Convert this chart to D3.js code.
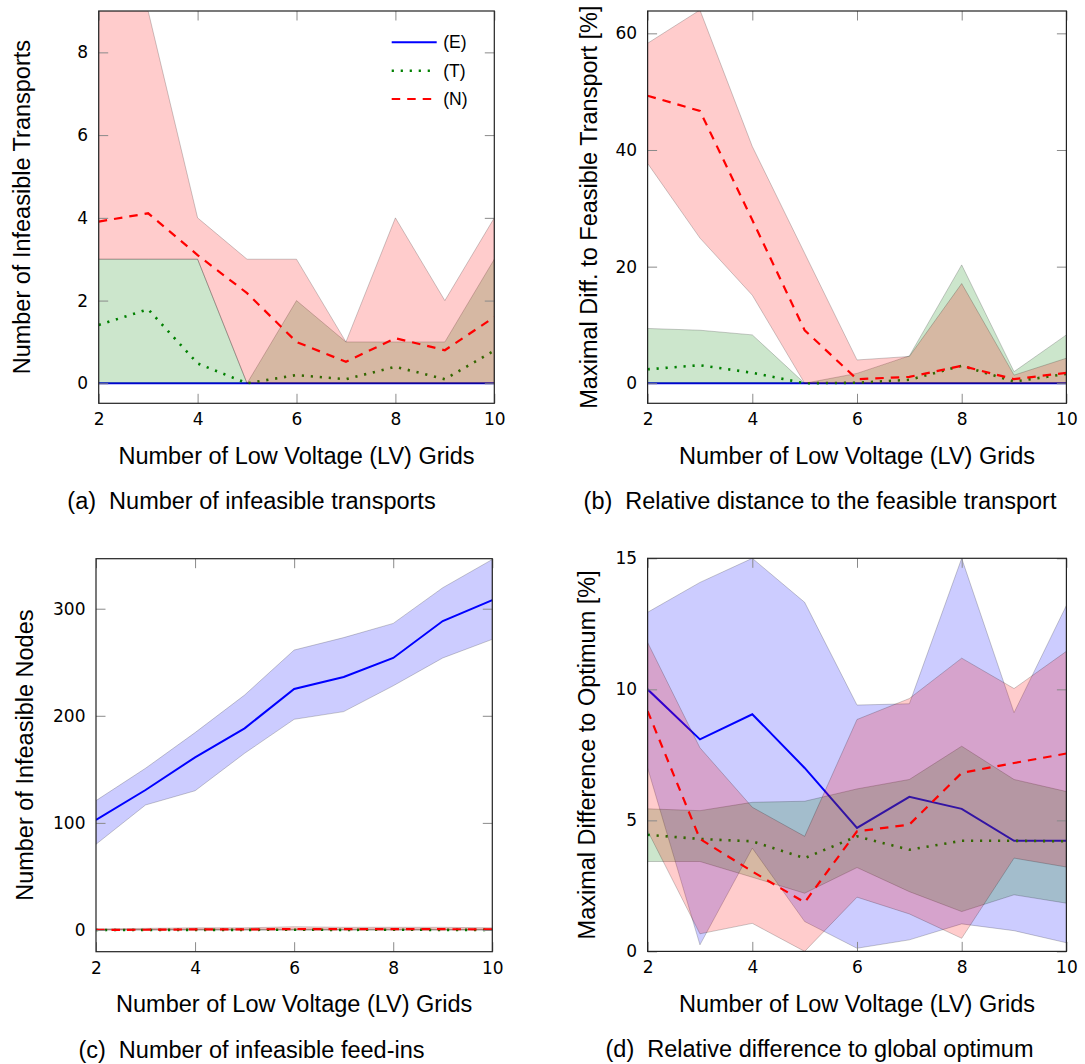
<!DOCTYPE html>
<html>
<head>
<meta charset="utf-8">
<script src="https://cdn.jsdelivr.net/npm/d3@7"></script>
<style>
  html, body { margin: 0; padding: 0; background: #fff; }
</style>
</head>
<body>
<div id="chart"></div>
<script>
// x: number of LV grids
const grids = [2, 3, 4, 5, 6, 7, 8, 9, 10];
const xTickValues = [2, 4, 6, 8, 10];
const seriesNames = ["(E)", "(T)", "(N)"];

// (a) number of infeasible transports
const aYTicks = [0, 2, 4, 6, 8];
const aE = [0, 0, 0, 0, 0, 0, 0, 0, 0];
const aELow = [0, 0, 0, 0, 0, 0, 0, 0, 0];
const aEHigh = [0, 0, 0, 0, 0, 0, 0, 0, 0];
const aT = [1.41, 1.79, 0.48, 0, 0.2, 0.1, 0.4, 0.1, 0.79];
const aTLow = [0, 0, 0, 0, 0, 0, 0, 0, 0];
const aTHigh = [3, 3, 3, 0, 2, 1, 1, 1, 3];
const aN = [3.91, 4.11, 3.1, 2.18, 1.0, 0.52, 1.09, 0.8, 1.6];
const aNLow = [3, 3, 3, 0, 0, 0, 0, 0, 0];
const aNHigh = [9, 9, 4, 3, 3, 1, 4, 2, 4];

// (b) relative distance to feasible transport [%]
const bYTicks = [0, 20, 40, 60];
const bE = [0, 0, 0, 0, 0, 0, 0, 0, 0];
const bELow = [0, 0, 0, 0, 0, 0, 0, 0, 0];
const bEHigh = [0, 0, 0, 0, 0, 0, 0, 0, 0];
const bT = [2.4, 3.1, 1.8, 0, 0.1, 0.6, 3.0, 0.3, 1.6];
const bTLow = [0, 0, 0, 0, 0, 0, 0, 0, 0];
const bTHigh = [9.4, 9.1, 8.3, 0, 1.7, 4.7, 20.3, 2.0, 8.3];
const bN = [49.3, 46.7, 28, 9.1, 0.7, 1.1, 3.0, 0.7, 1.8];
const bNLow = [37.7, 24.9, 15.1, 0, 0, 0, 0, 0, 0];
const bNHigh = [58.3, 64, 40.6, 22.3, 4.0, 4.6, 17.1, 1.4, 4.3];

// (c) number of infeasible nodes
const cYTicks = [0, 100, 200, 300];
const cE = [102.7, 130.7, 161.2, 188.3, 225, 236.2, 254, 288.5, 308];
const cELow = [80, 116.7, 130, 165, 196.7, 203.9, 228, 254, 271.4];
const cEHigh = [120.8, 151, 184.3, 219.4, 261.4, 273, 286.3, 319.6, 346];
const cT = [0, 0, 0.1, 0.1, 0.2, 0.1, 0.2, 0.1, 0.1];
const cTLow = [0, 0, 0, 0, 0, 0, 0, 0, 0];
const cTHigh = [0.5, 0.5, 0.8, 0.8, 1, 0.8, 1, 0.8, 0.8];
const cN = [0.1, 0.2, 0.5, 0.5, 0.9, 0.7, 0.8, 0.7, 0.6];
const cNLow = [0, 0, 0, 0, 0, 0, 0, 0, 0];
const cNHigh = [1, 1.5, 2, 2, 3, 2.5, 2.5, 2.5, 2];

// (d) relative difference to global optimum [%]
const dYTicks = [0, 5, 10, 15];
const dE = [10.0, 8.09, 9.05, 7.0, 4.71, 5.9, 5.44, 4.22, 4.22];
const dELow = [7.0, 0.25, 3.94, 1.14, 0.12, 0.44, 1.05, 0.79, 0.33];
const dEHigh = [12.94, 14.08, 15.0, 13.32, 9.40, 9.45, 15.0, 9.11, 13.2];
const dT = [4.45, 4.29, 4.2, 3.56, 4.39, 3.88, 4.22, 4.22, 4.2];
const dTLow = [3.43, 3.43, 2.83, 2.22, 3.2, 2.28, 1.52, 2.16, 1.84];
const dTHigh = [5.44, 5.37, 5.69, 5.73, 6.2, 6.56, 7.83, 6.56, 6.1];
const dN = [9.17, 4.29, 3.05, 1.87, 4.58, 4.84, 6.81, 7.19, 7.55];
const dNLow = [4.6, 0.67, 1.07, 0, 2.07, 1.43, 0.5, 3.56, 3.22];
const dNHigh = [11.79, 7.77, 5.5, 4.39, 8.85, 9.65, 11.19, 10.03, 11.45];

// --- styles ---
const colors = ["#0000ff", "#008000", "#ff0000"];
const dashes = [null, "2.2,6.8", "8.5,7"];
const widths = [2, 2.6, 2.2];
const tickFont = "'DejaVu Sans', sans-serif";
const labelFont = "'Liberation Sans', Arial, sans-serif";

const svg = d3.select("#chart").append("svg")
  .attr("width", 1085)
  .attr("height", 1064)
  .style("display", "block")
  .style("background", "#fff");

const panels = [
  { id: "a", left: 98.7, right: 494.3, top: 11, bottom: 403.3, yDomain: [-0.483, 9.0], yTicks: aYTicks,
    ylabel: "Number of Infeasible Transports", ylabelX: 29.5,
    capTag: "(a)", capText: "Number of infeasible transports", capX: 251.5, legend: true,
    series: [[aE, aELow, aEHigh], [aT, aTLow, aTHigh], [aN, aNLow, aNHigh]] },
  { id: "b", left: 647.6, right: 1066.4, top: 11, bottom: 403.3, yDomain: [-3.43, 63.83], yTicks: bYTicks,
    ylabel: "Maximal Diff. to Feasible Transport [%]", ylabelX: 596.5,
    capTag: "(b)", capText: "Relative distance to the feasible transport", capX: 820,
    series: [[bE, bELow, bEHigh], [bT, bTLow, bTHigh], [bN, bNLow, bNHigh]] },
  { id: "c", left: 96, right: 492.3, top: 558.7, bottom: 951.7, yDomain: [-20.3, 346.7], yTicks: cYTicks,
    ylabel: "Number of Infeasible Nodes", ylabelX: 32.5,
    capTag: "(c)", capText: "Number of infeasible feed-ins", capX: 251.5,
    series: [[cE, cELow, cEHigh], [cT, cTLow, cTHigh], [cN, cNLow, cNHigh]] },
  { id: "d", left: 647.6, right: 1066.4, top: 558.3, bottom: 951.4, yDomain: [0, 15], yTicks: dYTicks,
    ylabel: "Maximal Difference to Optimum [%]", ylabelX: 594.5,
    capTag: "(d)", capText: "Relative difference to global optimum", capX: 819.5,
    series: [[dE, dELow, dEHigh], [dT, dTLow, dTHigh], [dN, dNLow, dNHigh]] }
];

function drawPanel(p) {
  const x = d3.scaleLinear().domain([2, 10]).range([p.left, p.right]);
  const y = d3.scaleLinear().domain(p.yDomain).range([p.bottom, p.top]);
  const g = svg.append("g").attr("class", "panel-" + p.id);

  g.append("clipPath").attr("id", "clip-" + p.id)
    .append("rect")
    .attr("x", p.left).attr("y", p.top)
    .attr("width", p.right - p.left).attr("height", p.bottom - p.top);

  const plot = g.append("g").attr("clip-path", `url(#clip-${p.id})`);

  const area = d3.area()
    .x(d => x(d.x))
    .y0(d => y(d.lo))
    .y1(d => y(d.hi));
  const line = d3.line()
    .x(d => x(d.x))
    .y(d => y(d.v));

  // band then mean line, series after series (E, T, N)
  p.series.forEach(([mean, lo, hi], k) => {
    const band = grids.map((gx, i) => ({ x: gx, lo: lo[i], hi: hi[i] }));
    plot.append("path")
      .datum(band)
      .attr("d", area)
      .attr("fill", colors[k])
      .attr("fill-opacity", 0.2)
      .attr("stroke", "#000")
      .attr("stroke-opacity", 0.2)
      .attr("stroke-width", 1);

    plot.append("path")
      .datum(grids.map((gx, i) => ({ x: gx, v: mean[i] })))
      .attr("d", line)
      .attr("fill", "none")
      .attr("stroke", colors[k])
      .attr("stroke-width", widths[k])
      .attr("stroke-dasharray", dashes[k]);
  });

  // ticks inside on all four sides
  const tickLen = -9.5;
  const axes = [
    { ax: d3.axisBottom(x).tickValues(xTickValues).tickSize(tickLen).tickPadding(10), tr: `translate(0,${p.bottom})`, lab: true },
    { ax: d3.axisTop(x).tickValues(xTickValues).tickSize(tickLen).tickFormat(""), tr: `translate(0,${p.top})` },
    { ax: d3.axisLeft(y).tickValues(p.yTicks).tickSize(tickLen).tickPadding(10.5), tr: `translate(${p.left},0)`, lab: true },
    { ax: d3.axisRight(y).tickValues(p.yTicks).tickSize(tickLen).tickFormat(""), tr: `translate(${p.right},0)` }
  ];
  axes.forEach(a => {
    const gA = g.append("g").attr("transform", a.tr).call(a.ax);
    gA.select(".domain").remove();
    gA.selectAll(".tick line").attr("stroke", "#8a8a8a").attr("stroke-width", 1);
    gA.selectAll("text")
      .attr("fill", "#000")
      .style("font-family", tickFont)
      .style("font-size", "17px");
  });

  // frame
  g.append("rect")
    .attr("x", p.left).attr("y", p.top)
    .attr("width", p.right - p.left).attr("height", p.bottom - p.top)
    .attr("fill", "none")
    .attr("stroke", "#222")
    .attr("stroke-width", 1.2);

  // axis labels
  g.append("text")
    .attr("x", (p.left + p.right) / 2)
    .attr("y", p.bottom + 60.7)
    .attr("text-anchor", "middle")
    .style("font-family", labelFont)
    .style("font-size", "23.5px")
    .text("Number of Low Voltage (LV) Grids");

  g.append("text")
    .attr("transform", `translate(${p.ylabelX},${(p.top + p.bottom) / 2}) rotate(-90)`)
    .attr("text-anchor", "middle")
    .style("font-family", labelFont)
    .style("font-size", "23.5px")
    .text(p.ylabel);

  // sub caption
  const cap = g.append("text")
    .attr("x", p.capX)
    .attr("y", p.bottom + 106)
    .attr("text-anchor", "middle")
    .style("font-family", labelFont)
    .style("font-size", "23.5px");
  cap.append("tspan").text(p.capTag);
  cap.append("tspan").attr("dx", 13).text(p.capText);

  if (p.legend) {
    const lg = g.append("g");
    const rowsY = [42.3, 70.7, 99];
    seriesNames.forEach((name, k) => {
      lg.append("line")
        .attr("x1", 391.7).attr("x2", 436.7)
        .attr("y1", rowsY[k]).attr("y2", rowsY[k])
        .attr("stroke", colors[k])
        .attr("stroke-width", widths[k])
        .attr("stroke-dasharray", dashes[k]);
      lg.append("text")
        .attr("x", 443.3)
        .attr("y", rowsY[k])
        .attr("dy", "0.35em")
        .style("font-family", labelFont)
        .style("font-size", "17.5px")
        .text(name);
    });
  }
}

panels.forEach(drawPanel);
</script>
</body>
</html>
